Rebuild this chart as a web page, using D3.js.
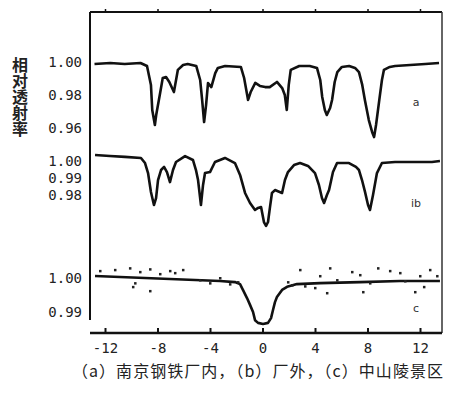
<!DOCTYPE html>
<html><head><meta charset="utf-8">
<script src="https://cdn.jsdelivr.net/npm/d3@7"></script>
<style>
html,body{margin:0;padding:0;background:#fff;}
svg{display:block;}
</style></head>
<body>
<svg id="chart" width="467" height="393"></svg>
<script>
// ---- data (velocity mm/s, relative transmission) ----
const xTicks = [-12, -8, -4, 0, 4, 8, 12];
const ticksA = [1.00, 0.98, 0.96];
const ticksB = [1.00, 0.99, 0.98];
const ticksC = [1.00, 0.99];

const velA = [-12.8,-11.6,-10.5,-9.3,-8.8,-8.5,-8.4,-8.2,-8.1,-7.8,-7.6,-7.35,-7.1,-6.75,-6.45,-6.05,-5.7,-5.05,-4.75,-4.6,-4.45,-4.3,-4.15,-3.9,-3.6,-3.4,-2.85,-1.65,-1.4,-1.1,-0.9,-0.55,-0.2,0.2,0.55,1.1,1.5,1.7,1.85,2.0,2.15,2.8,3.6,4.15,4.4,4.55,4.75,4.9,5.15,5.3,5.5,5.7,6.05,6.6,7.05,7.35,7.6,7.8,8.1,8.35,8.5,8.65,8.9,9.1,9.25,9.7,10.1,11.25,12.4,13.45];
const transA = [0.9988,0.9994,0.9988,0.9994,0.9976,0.9861,0.9709,0.9618,0.9679,0.9812,0.9903,0.9909,0.9879,0.9818,0.9952,0.9982,0.9988,0.9976,0.9891,0.9770,0.9636,0.9739,0.9873,0.9848,0.9933,0.9964,0.9976,0.9970,0.9903,0.9770,0.9818,0.9873,0.9855,0.9848,0.9848,0.9879,0.9842,0.9800,0.9709,0.9861,0.9952,0.9976,0.9976,0.9964,0.9891,0.9788,0.9709,0.9679,0.9721,0.9770,0.9879,0.9939,0.9970,0.9976,0.9964,0.9939,0.9861,0.9770,0.9648,0.9576,0.9545,0.9618,0.9770,0.9891,0.9952,0.9970,0.9976,0.9982,0.9988,0.9994];

const velB = [-12.76,-11.62,-10.48,-9.26,-8.95,-8.72,-8.5,-8.27,-8.11,-7.96,-7.73,-7.5,-7.28,-7.05,-6.82,-6.59,-5.9,-5.3,-5.07,-4.91,-4.69,-4.53,-4.38,-4.0,-3.62,-2.86,-2.1,-1.71,-1.33,-0.95,-0.57,-0.34,-0.11,0.11,0.27,0.42,0.57,0.72,0.95,1.49,1.71,1.94,2.4,2.86,3.47,4.0,4.3,4.53,4.69,4.91,5.07,5.37,5.68,6.59,7.12,7.35,7.58,7.81,8.04,8.19,8.42,8.72,9.1,10.1,11.62,12.91,13.52];
const transB = [1.0035,1.0029,1.0024,1.0018,0.9988,0.9929,0.9818,0.9741,0.9782,0.9888,0.9947,0.9965,0.9935,0.9876,0.9947,0.9994,1.0029,1.0006,0.9947,0.9888,0.9741,0.9859,0.9929,0.9935,0.9994,1.0018,0.9988,0.9918,0.9812,0.9753,0.9712,0.9724,0.9729,0.9641,0.9618,0.9641,0.9729,0.9812,0.9829,0.9812,0.9888,0.9935,0.9976,0.9988,0.9971,0.9929,0.9859,0.9782,0.9753,0.9800,0.9829,0.9935,0.9988,0.9988,0.9965,0.9947,0.9888,0.9818,0.9741,0.9712,0.9800,0.9929,0.9988,0.9994,0.9994,0.9994,1.0000];

const velC = [-12.76,-10.86,-8.95,-7.05,-5.14,-3.24,-2.1,-1.71,-1.49,-1.18,-0.95,-0.72,-0.57,-0.34,0.04,0.42,0.65,0.8,0.95,1.1,1.49,1.87,2.63,4.38,7.43,10.48,13.52];
const transC = [1.0006,1.0003,1.0000,0.9997,0.9994,0.9991,0.9988,0.9982,0.9965,0.9941,0.9921,0.9900,0.9876,0.9868,0.9865,0.9868,0.9882,0.9906,0.9929,0.9944,0.9965,0.9974,0.9982,0.9985,0.9988,0.9991,0.9991];

const dotVelC = [-12.38,-11.24,-10.1,-9.33,-8.57,-9.87,-8.57,-9.71,-7.81,-7.05,-6.67,-6.06,-4.76,-4.0,-3.24,-2.48,-1.87,2.86,4.38,5.14,6.82,7.43,8.8,9.71,10.48,10.86,12.0,12.76,13.3,4.91,4.0,3.24,1.94,2.25,5.68,8.19,11.62,12.3,7.66];
const dotTransC = [1.0021,1.0024,1.0029,1.0018,1.0026,0.9974,0.9962,0.9985,1.0012,1.0021,1.0015,1.0024,0.9994,0.9985,1.0000,0.9982,0.9988,1.0024,1.0006,1.0029,1.0018,1.0009,1.0029,1.0021,1.0015,0.9991,1.0006,1.0024,1.0006,0.9956,0.9971,0.9976,0.9988,0.9979,0.9994,0.9985,0.9959,0.9974,0.9959];

const panelLabels = ["a", "ib", "c"];
const yTitle = "相对透射率";
const caption = "（a）南京钢铁厂内，（b）厂外，（c）中山陵景区";

// ---- drawing ----
const svg = d3.select("#chart");
const ink = "#111";

const x = d3.scaleLinear().domain([-12, 12]).range([105, 420]);
const ya = d3.scaleLinear().domain([0.96, 1.00]).range([128, 62]);
const yb = d3.scaleLinear().domain([0.98, 1.00]).range([195, 161]);
const yc = d3.scaleLinear().domain([0.99, 1.00]).range([312, 278]);

// frame
const L = 90, R = 442, T = 12, B = 333;
svg.append("line").attr("x1", L).attr("x2", L).attr("y1", T).attr("y2", 320)
  .attr("stroke", ink).attr("stroke-width", 2);
svg.append("line").attr("x1", L).attr("x2", R).attr("y1", T).attr("y2", T)
  .attr("stroke", ink).attr("stroke-width", 2);
svg.append("line").attr("x1", R).attr("x2", R).attr("y1", T).attr("y2", B)
  .attr("stroke", "#333").attr("stroke-width", 1.5);
svg.append("line").attr("x1", L).attr("x2", R).attr("y1", B).attr("y2", B)
  .attr("stroke", ink).attr("stroke-width", 2.5);

// bottom axis
const gx = svg.append("g").attr("transform", `translate(0,${B})`)
  .call(d3.axisBottom(x).tickValues(xTicks).tickSize(-5).tickPadding(10)
    .tickFormat(d => d < 0 ? "-" + Math.abs(d) : String(d)));
gx.select(".domain").remove();
gx.selectAll("line").attr("stroke", ink).attr("stroke-width", 2);
gx.selectAll("text").attr("fill", "#222").style("font-family", "'DejaVu Sans Mono', monospace")
  .style("font-size", "14px");

// top axis small ticks
const gt = svg.append("g").attr("transform", `translate(0,${T})`)
  .call(d3.axisTop(x).tickValues(xTicks).tickSize(3).tickFormat(""));
gt.select(".domain").remove();
gt.selectAll("line").attr("stroke", ink).attr("stroke-width", 1.5);

// y tick labels per panel
function yLabels(scale, vals) {
  const g = svg.append("g").attr("transform", "translate(82,0)")
    .call(d3.axisLeft(scale).tickValues(vals).tickSize(0).tickPadding(0).tickFormat(d3.format(".2f")));
  g.select(".domain").remove();
  g.selectAll("text").attr("fill", "#222")
    .style("font-family", "'DejaVu Sans Mono', monospace").style("font-size", "14px");
}
yLabels(ya, ticksA);
yLabels(yb, ticksB);
yLabels(yc, ticksC);

// curves
function curve(vel, tr, ys) {
  const data = vel.map((v, i) => [v, tr[i]]);
  svg.append("path").datum(data)
    .attr("fill", "none").attr("stroke", ink).attr("stroke-width", 2.6)
    .attr("stroke-linejoin", "round")
    .attr("d", d3.line().x(d => x(d[0])).y(d => ys(d[1])));
}
curve(velA, transA, ya);
curve(velB, transB, yb);
curve(velC, transC, yc);

// scattered points
svg.append("g").selectAll("rect").data(dotVelC.map((v, i) => [v, dotTransC[i]]))
  .join("rect")
  .attr("x", d => x(d[0]) - 1).attr("y", d => yc(d[1]) - 1)
  .attr("width", 2.5).attr("height", 2.5).attr("fill", "#222");

// panel labels
const labelPos = [[ya, 0.975], [yb, 0.975], [yc, 0.991]];
panelLabels.forEach((t, i) => {
  svg.append("text").attr("x", x(11.7)).attr("y", labelPos[i][0](labelPos[i][1]))
    .attr("text-anchor", "middle").attr("dominant-baseline", "middle")
    .attr("fill", "#333").style("font-family", "'DejaVu Sans', sans-serif")
    .style("font-size", "11px").text(t);
});

// y title (vertical text)
svg.append("text").attr("x", 20).attr("y", 57)
  .style("writing-mode", "vertical-rl").style("text-orientation", "upright")
  .attr("fill", "#222")
  .style("font-family", "'Noto Sans CJK SC', sans-serif").style("font-size", "16px")
  .style("font-weight", "bold")
  .text(yTitle);

// caption
svg.append("text").attr("x", 72).attr("y", 377)
  .attr("textLength", 371).attr("lengthAdjust", "spacing")
  .attr("fill", "#222")
  .style("font-family", "'Noto Sans CJK SC', sans-serif").style("font-size", "16px")
  .text(caption);
</script>
</body></html>
